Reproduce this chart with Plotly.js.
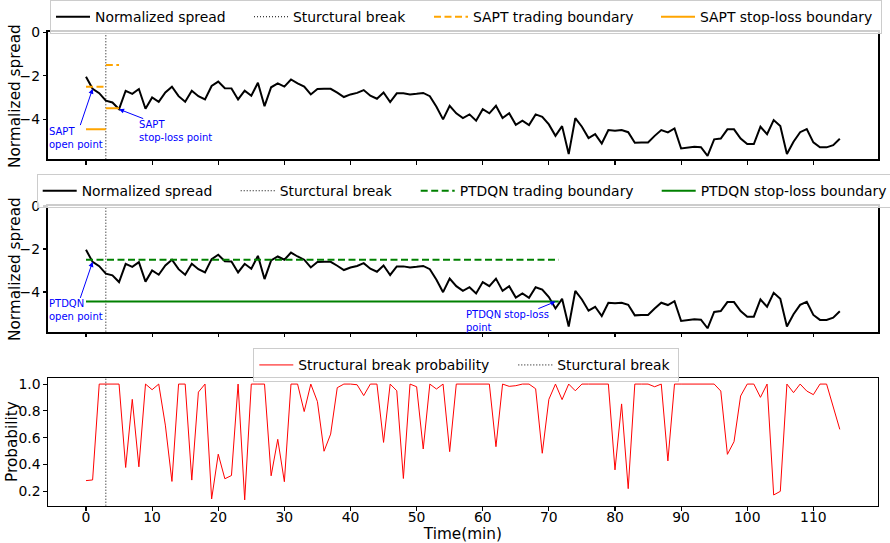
<!DOCTYPE html>
<html>
<head>
<meta charset="utf-8">
<script src="https://cdn.plot.ly/plotly-3.0.1.min.js"></script>
<style>html,body{margin:0;padding:0;background:#fff;}#chart{width:890px;height:543px;}</style>
</head>
<body>
<div id="chart"></div>
<script>
// ---- data ----
const spread = [
  -2.04, -2.60, -2.80, -3.15, -3.23, -3.54, -2.69, -2.83, -2.61, -3.52,
  -3.00, -3.20, -2.77, -2.50, -2.94, -3.20, -2.69, -2.94, -3.09, -2.47,
  -2.27, -2.57, -2.58, -3.09, -2.69, -2.92, -2.32, -3.40, -2.53, -2.35,
  -2.50, -2.17, -2.35, -2.50, -2.86, -2.61, -2.60, -2.60, -2.78, -2.98,
  -2.86, -2.79, -2.66, -2.92, -3.06, -2.77, -3.21, -2.81, -2.81, -2.86,
  -2.83, -2.79, -2.94, -3.43, -4.01, -3.38, -3.73, -3.95, -3.78, -4.07,
  -3.54, -3.73, -3.38, -3.95, -3.73, -4.26, -4.07, -4.27, -3.78, -3.89,
  -4.24, -4.77, -4.32, -5.61, -3.95, -4.35, -4.87, -4.69, -5.12, -4.50,
  -4.53, -4.50, -4.60, -5.09, -5.07, -5.07, -4.77, -4.50, -4.61, -4.43,
  -5.35, -5.30, -5.27, -5.29, -5.69, -4.93, -4.89, -4.47, -4.47, -4.89,
  -5.15, -5.15, -4.35, -4.69, -4.04, -4.32, -5.61, -5.04, -4.60, -4.46,
  -5.07, -5.30, -5.30, -5.20, -4.90
];
const breakProb = [
  0.280, 0.285, 1.000, 1.000, 1.000, 1.000, 0.378, 0.886, 0.383, 1.000,
  0.958, 1.000, 0.694, 0.274, 1.000, 1.000, 0.284, 0.940, 1.000, 0.143,
  0.477, 0.294, 0.318, 1.000, 0.136, 1.000, 1.000, 1.000, 0.316, 0.588,
  0.272, 1.000, 1.000, 0.795, 1.000, 0.869, 0.499, 0.627, 0.973, 1.000,
  1.000, 0.995, 0.914, 1.000, 1.000, 0.565, 1.000, 0.950, 0.296, 1.000,
  0.980, 0.516, 1.000, 0.963, 1.000, 0.496, 1.000, 1.000, 1.000, 1.000,
  0.995, 1.000, 0.533, 1.000, 0.983, 0.988, 1.000, 1.000, 0.965, 0.484,
  0.886, 1.000, 0.884, 1.000, 0.950, 1.000, 1.000, 1.000, 1.000, 1.000,
  0.360, 0.852, 0.220, 1.000, 1.000, 1.000, 0.980, 1.000, 0.427, 1.000,
  1.000, 1.000, 1.000, 1.000, 1.000, 1.000, 0.948, 0.476, 0.570, 0.911,
  1.000, 1.000, 0.901, 1.000, 0.173, 0.200, 1.000, 0.936, 1.000, 0.948,
  0.921, 1.000, 1.000, 0.830, 0.662
];
const timeMin = spread.map((_, i) => i);
const breakTime = 3;

// SAPT boundaries (two segments: before / after the break)
const saptTradeX = [0, 3, null, 3, 5];
const saptTradeY = [-2.5, -2.5, null, -1.5, -1.5];
const saptStopX = [0, 3, null, 3, 5];
const saptStopY = [-4.47, -4.47, null, -3.5, -3.5];
// PTDQN boundaries
const ptdqnTradeX = [0, 71.5];
const ptdqnTradeY = [-2.5, -2.5];
const ptdqnStopX = [0, 71.5];
const ptdqnStopY = [-4.45, -4.45];

const xTicks = [0, 10, 20, 30, 40, 50, 60, 70, 80, 90, 100, 110];
const spreadTicks = [0, -2, -4];
const probTicks = [0.2, 0.4, 0.6, 0.8, 1.0];

// event indices
const openIdx = 1, saptStopIdx = 5, ptdqnStopT = 71;

// ---- styling ----
const FONT = 'DejaVu Sans';
const spreadRange = [-5.85, 0];
const probRange = [0.093, 1.043];
const xRange = [-5.7, 119.7];
const dotted = '1px,2px';
const dashed = '7px,3.5px';
const W = 890, H = 543;
const px = v => v / W;            // horizontal pixel -> paper fraction
const py = v => 1 - v / H;        // vertical pixel (from top) -> paper fraction

function trace(x, y, name, color, width, dash, xa, ya, leg, lw) {
  return {x, y, name, mode: 'lines', type: 'scatter', xaxis: xa, yaxis: ya,
    legend: leg, legendwidth: lw, hoverinfo: 'skip',
    line: {color, width, dash: dash || 'solid'}};
}

const data = [
  trace(timeMin, spread, 'Normalized spread', '#000000', 2, null, 'x', 'y', 'legend', 149),
  trace([breakTime, breakTime], spreadRange, 'Sturctural break', '#000000', 1, dotted, 'x', 'y', 'legend', 131),
  trace(saptTradeX, saptTradeY, 'SAPT trading boundary', '#FFA500', 2, dashed, 'x', 'y', 'legend', 178),
  trace(saptStopX, saptStopY, 'SAPT stop-loss boundary', '#FFA500', 2, null, 'x', 'y', 'legend', 176),

  trace(timeMin, spread, 'Normalized spread', '#000000', 2, null, 'x2', 'y2', 'legend2', 149),
  trace([breakTime, breakTime], spreadRange, 'Sturctural break', '#000000', 1, dotted, 'x2', 'y2', 'legend2', 131),
  trace(ptdqnTradeX, ptdqnTradeY, 'PTDQN trading boundary', '#008000', 2, dashed, 'x2', 'y2', 'legend2', 192),
  trace(ptdqnStopX, ptdqnStopY, 'PTDQN stop-loss boundary', '#008000', 2, null, 'x2', 'y2', 'legend2', 186),

  trace(timeMin, breakProb, 'Structural break probability', '#FF0000', 1, null, 'x3', 'y3', 'legend3', 210),
  trace([breakTime, breakTime], probRange, 'Sturctural break', '#000000', 1, dotted, 'x3', 'y3', 'legend3', 116)
];

const tickFont = {family: FONT, size: 13.9, color: '#000'};
const titleFont = {family: FONT, size: 15.3, color: '#000'};
const xDomain = [px(48.3), px(877.5)];

function xAxis(anchor, labels) {
  return {anchor, domain: xDomain, range: xRange, tickmode: 'array', tickvals: xTicks,
    showticklabels: labels, ticks: 'outside', ticklen: 3.5, tickwidth: 1.1, tickcolor: '#000',
    ticklabelstandoff: -5,
    showline: true, mirror: true, linecolor: '#000', linewidth: labels ? 1.4 : 2,
    showgrid: false, zeroline: false, tickfont: tickFont, automargin: true};
}
function yAxis(anchor, domain, range, ticks, fmt, lw) {
  return {anchor, domain, range, tickmode: 'array', tickvals: ticks, tickformat: fmt,
    ticks: 'outside', ticklen: 3.5, tickwidth: 1.1, tickcolor: '#000',
    showline: true, mirror: true, linecolor: '#000', linewidth: lw,
    showgrid: false, zeroline: false, tickfont: tickFont, automargin: false};
}

const legendBase = {orientation: 'h', xanchor: 'left', yanchor: 'middle',
  bgcolor: 'rgba(255,255,255,0.8)', bordercolor: '#cccccc', borderwidth: 1,
  font: {family: FONT, size: 13.9, color: '#000'}, itemwidth: 34};

const annFont = {family: FONT, size: 10, color: '#0000FF'};
function ann(xa, ya, x, y, ax, ay, text) {
  return {xref: xa, yref: ya, axref: xa, ayref: ya, x, y, ax, ay, text,
    showarrow: true, arrowhead: 2, arrowsize: 1, arrowwidth: 1, arrowcolor: '#0000FF',
    font: annFont, align: 'left', borderpad: 0};
}
// vertical axis titles placed as rotated text next to each panel
function yTitle(text, xPix, yPix) {
  return {xref: 'paper', yref: 'paper', x: px(xPix), y: py(yPix), text, textangle: -90,
    showarrow: false, xanchor: 'center', yanchor: 'middle', font: titleFont};
}

const layout = {
  width: W, height: H,
  margin: {l: 0, r: 0, t: 0, b: 0, autoexpand: false},
  paper_bgcolor: '#fff', plot_bgcolor: '#fff',
  font: {family: FONT, color: '#000'},
  showlegend: true,
  xaxis: xAxis('y', false),
  xaxis2: xAxis('y2', false),
  xaxis3: Object.assign(xAxis('y3', true), {title: {text: 'Time(min)', font: titleFont, standoff: 3}}),
  yaxis: yAxis('x', [py(159.3), py(32.4)], spreadRange, spreadTicks, 'd', 2),
  yaxis2: yAxis('x2', [py(331.7), py(206)], spreadRange, spreadTicks, 'd', 2),
  yaxis3: yAxis('x3', [py(505.7), py(378.3)], probRange, probTicks, '.1f', 1.4),
  legend: Object.assign({}, legendBase, {x: px(50), y: py(17.2)}),
  legend2: Object.assign({}, legendBase, {x: px(36.7), y: py(191.2)}),
  legend3: Object.assign({}, legendBase, {x: px(253.3), y: py(365.4)}),
  annotations: [
    yTitle('Normalized spread', 15, 96),
    yTitle('Normalized spread', 15, 269),
    yTitle('Probability', 12, 442),
    ann('x', 'y', openIdx, spread[openIdx], -1.5, -4.85, 'SAPT<br>open point'),
    ann('x', 'y', saptStopIdx, spread[saptStopIdx], 13.5, -4.55, 'SAPT<br>stop-loss point'),
    ann('x2', 'y2', openIdx, spread[openIdx], -1.5, -4.86, 'PTDQN<br>open point'),
    ann('x2', 'y2', ptdqnStopT, ptdqnStopY[0], 63.8, -5.36, 'PTDQN stop-loss<br>point')
  ]
};

Plotly.newPlot('chart', data, layout, {displayModeBar: false, staticPlot: true});
</script>
</body>
</html>
